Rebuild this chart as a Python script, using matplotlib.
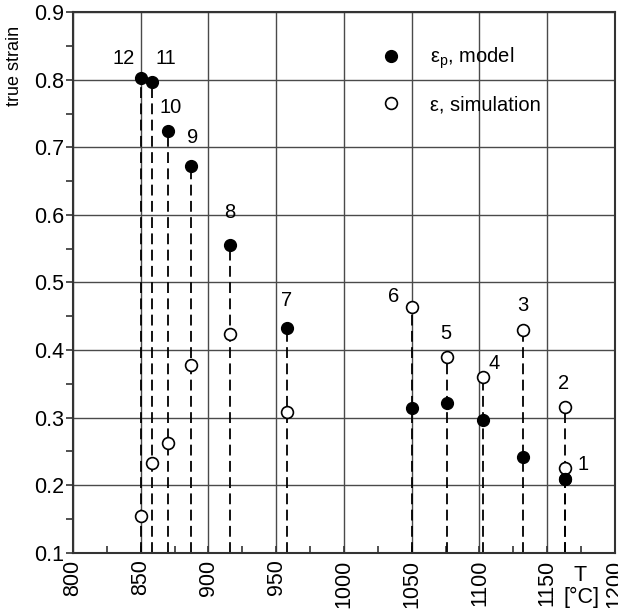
import matplotlib.pyplot as plt
from matplotlib.ticker import MultipleLocator

plt.rcParams["font.family"] = ["Liberation Sans", "DejaVu Sans"]

labels = ["1", "2", "3", "4", "5", "6", "7", "8", "9", "10", "11", "12"]
temp = [1163, 1163, 1132, 1103, 1076, 1050, 958, 916, 887, 870, 858, 850]
eps_model = [0.209, 0.209, 0.242, 0.296, 0.322, 0.314, 0.432, 0.556, 0.672, 0.724, 0.796, 0.803]
eps_sim = [0.226, 0.316, 0.429, 0.360, 0.390, 0.463, 0.308, 0.424, 0.378, 0.263, 0.233, 0.154]

# label offsets (points) from the upper marker of each pair
offsets = [(13, 2), (-1, 17), (0, 18), (8, 10), (-1, 17), (-13, 8),
           (0, 20), (0, 23), (1, 21), (2, 17), (10, 17), (-12, 14)]

fig = plt.figure(figsize=(6.18, 6.10), dpi=100)
ax = fig.add_axes([0.118, 0.094, 0.877, 0.886])

gc = "#4a4a4a"
ax.set_xlim(800, 1200)
ax.set_ylim(0.1, 0.9)
ax.xaxis.set_major_locator(MultipleLocator(50))
ax.xaxis.set_minor_locator(MultipleLocator(25))
ax.yaxis.set_major_locator(MultipleLocator(0.1))
ax.yaxis.set_minor_locator(MultipleLocator(0.05))
ax.grid(True, which="major", color=gc, linewidth=1.0)
ax.set_axisbelow(True)
for s in ax.spines.values():
    s.set_color("#333333")
    s.set_linewidth(1.5)

ax.tick_params(axis="x", which="both", direction="in", length=5, width=1.2,
               color="#333333", labelsize=15.5, labelrotation=90, pad=5)
ax.tick_params(axis="y", which="both", direction="out", length=5, width=1.2,
               color="#333333", labelsize=15.5, pad=1)
ax.set_yticklabels(["%.1f" % v for v in ax.get_yticks()])

for t, m, s in zip(temp, eps_model, eps_sim):
    ax.plot([t, t], [0.1, max(m, s)], color="black", linewidth=1.3,
            dashes=(6, 3), zorder=2)

ax.plot(temp, eps_sim, "o", color="black", markerfacecolor="white",
        markeredgewidth=1.2, markersize=8.5, linestyle="none", zorder=3,
        label="ε, simulation")
ax.plot(temp, eps_model, "o", color="black", markersize=8.5,
        linestyle="none", zorder=4, label="ε$_\\mathregular{p}$, model")

for lab, t, m, s, off in zip(labels, temp, eps_model, eps_sim, offsets):
    ax.annotate(lab, (t, max(m, s)), xytext=off, textcoords="offset points",
                ha="center", va="center", fontsize=14.5)

h, l = ax.get_legend_handles_labels()
ax.legend(h[::-1], l[::-1], loc="upper left", bbox_to_anchor=(0.535, 0.972),
          frameon=False, fontsize=14.5, handletextpad=1.45, labelspacing=1.2,
          handlelength=1.0)

ax.set_ylabel("true strain", fontsize=13, labelpad=4)
ax.yaxis.set_label_coords(-0.092, 0.9)
ax.text(1174, 0.082, "T", ha="center", va="top", fontsize=15.5)
ax.text(1175, 0.05, "[°C]", ha="center", va="top", fontsize=15.5)

fig.savefig("out.png", dpi=100)
